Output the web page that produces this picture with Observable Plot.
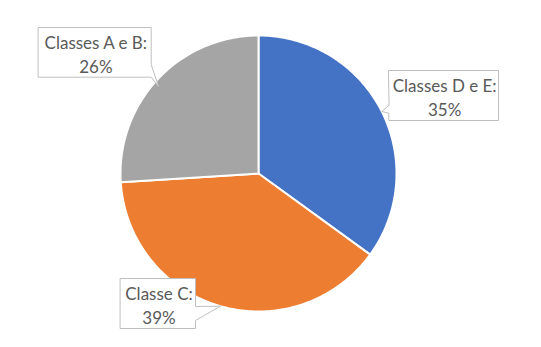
<!DOCTYPE html>
<html><head><meta charset="utf-8">
<script src="https://cdn.jsdelivr.net/npm/d3@7"></script>
<script src="https://cdn.jsdelivr.net/npm/@observablehq/plot@0.6"></script>
<style>html,body{margin:0;padding:0;background:#fff;overflow:hidden}</style>
</head><body><div id="chart"></div>
<script>
// ---- data ----
const categories = ["Classes D e E", "Classe C", "Classes A e B"];
const shares = [35, 39, 26];
const colors = ["#4472C4", "#ED7D31", "#A5A5A5"];

// ---- layout (pixels) ----
const W = 541, H = 347;
const pie = {cx: 258, cy: 173, r: 138};
// callout boxes: [x0,y0,x1,y1], wedge side and base interval, tip angle (deg clockwise from top), tip radius factor
const callouts = [
  {box: [388.3, 70, 498, 120], side: "left", from: 105, to: 112.7, tipAngle: 63.3, tipR: 1.0},
  {box: [120, 278, 195, 328], side: "right", from: 306, to: 320, tipAngle: 196, tipR: 1.0},
  {box: [38, 27, 150.7, 76.7], side: "right", from: 64, to: 76.7, tipAngle: 311, tipR: 0.96}
];

// ---- slices ----
const arcs = d3.pie().sort(null).value(d => d)(shares);
const slicePts = [];
arcs.forEach((a, i) => {
  slicePts.push({k: categories[i], x: pie.cx, y: pie.cy});
  const n = Math.max(2, Math.ceil((a.endAngle - a.startAngle) * 180 / Math.PI));
  for (let j = 0; j <= n; j++) {
    const t = a.startAngle + (a.endAngle - a.startAngle) * j / n;
    slicePts.push({k: categories[i], x: pie.cx + pie.r * Math.sin(t), y: pie.cy - pie.r * Math.cos(t)});
  }
});

// ---- callouts ----
const calloutPts = [];
const labels = [];
callouts.forEach((c, i) => {
  const [x0, y0, x1, y1] = c.box;
  const ang = c.tipAngle * Math.PI / 180;
  const tip = [pie.cx + pie.r * c.tipR * Math.sin(ang), pie.cy - pie.r * c.tipR * Math.cos(ang)];
  let pts = [[x0, y0], [x1, y0]];
  if (c.side === "right") pts.push([x1, c.from], tip, [x1, c.to]);
  pts.push([x1, y1], [x0, y1]);
  if (c.side === "left") pts.push([x0, c.to], tip, [x0, c.from]);
  pts.forEach(p => calloutPts.push({k: categories[i], x: p[0], y: p[1]}));
  labels.push({x: (x0 + x1) / 2 + 1, y: (y0 + y1) / 2 + 1, text: `${categories[i]}:\n${shares[i]}%`});
});

const chart = Plot.plot({
  width: W, height: H,
  margin: 0,
  x: {domain: [0, W], range: [0, W], axis: null},
  y: {domain: [0, H], range: [0, H], axis: null},
  color: {domain: categories, range: colors},
  style: {background: "#fff"},
  marks: [
    Plot.line(slicePts, {x: "x", y: "y", z: "k", fill: "k", stroke: "#fff", strokeWidth: 2, curve: "linear-closed", strokeLinejoin: "round"}),
    Plot.line(calloutPts, {x: "x", y: "y", z: "k", fill: "#fff", stroke: "#BFBFBF", strokeWidth: 1, curve: "linear-closed"}),
    Plot.text(labels, {x: "x", y: "y", text: "text", fill: "#595959", fontSize: 17, lineHeight: 1.4, fontFamily: "Lato", textAnchor: "middle"})
  ]
});
document.getElementById("chart").appendChild(chart);
</script>
</body></html>
